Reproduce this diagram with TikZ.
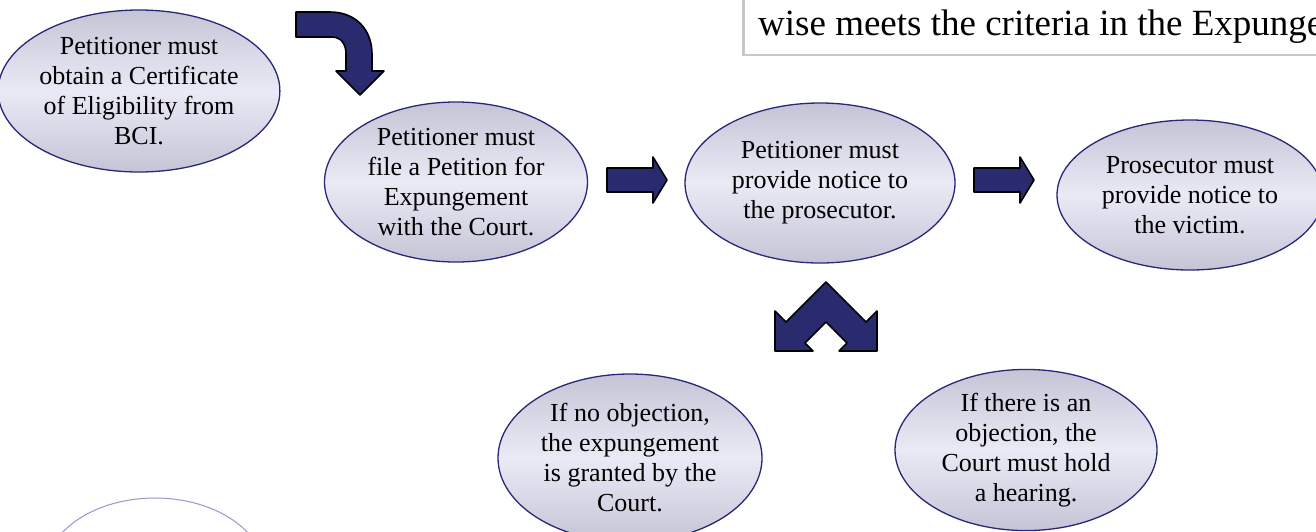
\documentclass[tikz,border=0pt]{standalone}
\usepackage{fontspec}
\setmainfont{Liberation Serif}
\usetikzlibrary{shapes.geometric}
\definecolor{ellTop}{RGB}{196,196,214}
\definecolor{ellMid}{RGB}{234,234,246}
\definecolor{ellLine}{RGB}{40,40,120}
\definecolor{navy}{RGB}{42,42,110}
\definecolor{boxLine}{RGB}{200,200,200}
\definecolor{fadeLine}{RGB}{150,150,210}
\tikzset{
 stepnode/.style={ellipse, draw=ellLine, line width=1.3pt, top color=ellTop, bottom color=ellTop, middle color=ellMid, inner sep=0pt, align=center, font=\fontsize{26}{30}\selectfont},
 blockarrow/.style={fill=navy, draw=black, line width=1.6pt, line join=round}
}
\begin{document}
\begin{tikzpicture}[x=1pt,y=-1pt]
\useasboundingbox (0,0) rectangle (1316,531);
\clip (0,0) rectangle (1316,531);
\fill[white] (0,0) rectangle (1316,531);

% info box (cut by the frame)
\node[draw=boxLine, line width=2.5pt, fill=white, anchor=south west, minimum width=700pt, minimum height=120pt, inner sep=0pt] (infobox) at (742,56) {};
\node[anchor=base west, inner sep=0pt, font=\fontsize{37}{42}\selectfont] (boxtext) at (758,35) {wise meets the criteria in the Expunge};

% faded ellipse
\node[ellipse, draw=fadeLine, line width=1pt, minimum width=220pt, minimum height=150pt] (faded) at (155,573) {};

% steps
\node[stepnode, minimum width=262pt, minimum height=162pt] (e1) at (139,91) {Petitioner must\\obtain a Certificate\\of Eligibility from\\BCI.};
\node[stepnode, minimum width=263pt, minimum height=160pt] (e2) at (456,182) {Petitioner must\\file a Petition for\\Expungement\\with the Court.};
\node[stepnode, minimum width=270pt, minimum height=160pt] (e3) at (820,183) {Petitioner must\\provide notice to\\the prosecutor.};
\node[stepnode, minimum width=266pt, minimum height=150pt] (e4) at (1190,195) {Prosecutor must\\provide notice to\\the victim.};
\node[stepnode, minimum width=264pt, minimum height=168pt] (e5) at (630,458) {If no objection,\\the expungement\\is granted by the\\Court.};
\node[stepnode, minimum width=262pt, minimum height=156pt] (e6) at (1026,450) {If there is an\\objection, the\\Court must hold\\a hearing.};

% curved arrow
\draw[blockarrow] (296,12) -- (330,12) .. controls (356,12) and (372,30) .. (372,54) -- (372,71) -- (384,71) -- (360,95) -- (336,71) -- (346,71) -- (346,54) .. controls (346,44) and (341,37) .. (332,37) -- (296,37) -- cycle;

% straight arrows
\draw[blockarrow] (607,168) -- (653,168) -- (653,157) -- (667,180) -- (653,203) -- (653,192) -- (607,192) -- cycle;
\draw[blockarrow] (974,168) -- (1020,168) -- (1020,157) -- (1034,180) -- (1020,203) -- (1020,192) -- (974,192) -- cycle;

% split arrow
\draw[blockarrow] (826,282) -- (866,322) -- (877,311) -- (877,351) -- (839,351) -- (847,343) -- (826,322) -- (805,343) -- (813,351) -- (775,351) -- (775,311) -- (786,322) -- cycle;
\end{tikzpicture}
\end{document}
